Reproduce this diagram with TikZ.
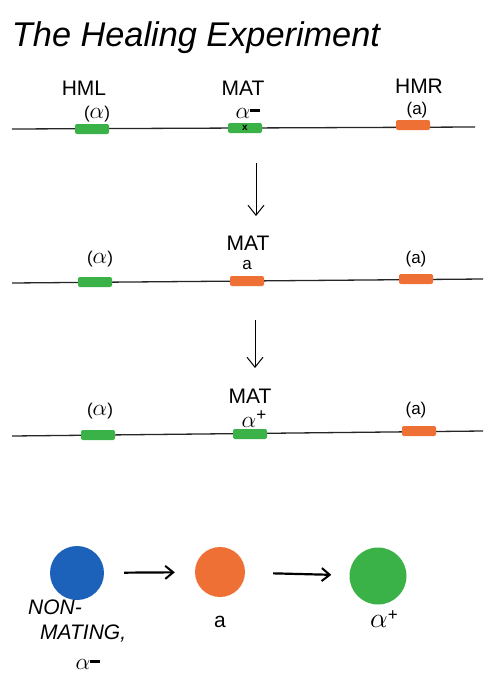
\documentclass[tikz,border=0pt]{standalone}
\usepackage{graphicx}
\usepackage{fontspec}
\setmainfont{Liberation Sans}
\usetikzlibrary{arrows.meta}
\definecolor{genegreen}{RGB}{58,178,72}
\definecolor{geneorange}{RGB}{238,112,52}
\definecolor{cellblue}{RGB}{28,98,186}
\newcommand{\alf}{\scalebox{1.35}{$\alpha$}}
\newcommand{\alfminus}{\alf\rule[6pt]{10pt}{3.5pt}}
\newcommand{\alfplus}{\alf\raisebox{7pt}{\fontsize{17}{17}\selectfont +}}
\tikzset{
  chrom/.style={line width=1.3pt, black!85},
  gene/.style={rectangle, rounded corners=2pt, minimum width=34pt, minimum height=10pt, inner sep=0pt},
  ggene/.style={gene, fill=genegreen},
  ogene/.style={gene, fill=geneorange},
  lbl/.style={inner sep=0pt, font=\fontsize{21}{23}\selectfont},
  sub/.style={inner sep=0pt, font=\fontsize{17}{19}\selectfont},
  downarrow/.style={line width=1pt, -{Straight Barb[length=10pt, width=16pt, line width=1pt]}},
  rightarrow/.style={line width=2.2pt, -{Straight Barb[length=8pt, width=13pt, line width=2pt]}},
  cell/.style={circle, minimum size=54pt, inner sep=0pt},
}
\begin{document}
\begin{tikzpicture}[x=1pt, y=-1pt]
  \useasboundingbox (0,0) rectangle (483,691);
  \fill[white] (0,0) rectangle (483,691);

  % title
  \node[inner sep=0pt, anchor=base] (title) at (196,46)
    {\resizebox{368pt}{!}{\itshape\fontsize{30}{32}\selectfont The Healing Experiment}};

  % first chromosome: HML(alpha), MAT alpha-, HMR(a)
  \coordinate (l1a) at (12,129);
  \coordinate (l1b) at (475,127);
  \draw[chrom] (l1a) -- (l1b);
  \node[ggene] (hml1) at (92,129) {};
  \node[ggene] (mat1) at (245,128) {\bfseries\fontsize{10}{10}\selectfont x};
  \node[ogene] (hmr1) at (413,125) {};
  \node[lbl] (hmlt) at (84,88) {HML};
  \node[sub] (hmla) at (97,114) {(\alf)};
  \node[lbl] (matt1) at (243,88) {MAT};
  \node[sub] (mata1) at (248,113) {\alfminus};
  \node[lbl] (hmrt) at (419,86) {HMR};
  \node[sub] (hmra) at (417,110) {(a)};

  % arrow down
  \coordinate (d1a) at (256,163);
  \coordinate (d1b) at (256,216);
  \draw[downarrow] (d1a) -- (d1b);

  % second chromosome: MAT a
  \coordinate (l2a) at (12,283);
  \coordinate (l2b) at (483,279);
  \draw[chrom] (l2a) -- (l2b);
  \node[ggene] (hml2) at (95,282) {};
  \node[ogene] (mat2) at (247,281) {};
  \node[ogene] (hmr2) at (416,279) {};
  \node[sub] (hmla2) at (100,259) {(\alf)};
  \node[lbl] (matt2) at (248,243) {MAT};
  \node[sub] (mata2) at (247,265) {a};
  \node[sub] (hmra2) at (416,259) {(a)};

  % arrow down
  \coordinate (d2a) at (255,320);
  \coordinate (d2b) at (255,368);
  \draw[downarrow] (d2a) -- (d2b);

  % third chromosome: MAT alpha+
  \coordinate (l3a) at (12,436);
  \coordinate (l3b) at (483,431);
  \draw[chrom] (l3a) -- (l3b);
  \node[ggene] (hml3) at (98,435) {};
  \node[ggene] (mat3) at (250,434) {};
  \node[ogene] (hmr3) at (419,431) {};
  \node[sub] (hmla3) at (100,411) {(\alf)};
  \node[lbl] (matt3) at (250,396) {MAT};
  \node[sub] (mata3) at (254,419) {\alfplus};
  \node[sub] (hmra3) at (416,410) {(a)};

  % cells
  \node[cell, fill=cellblue] (c1) at (77,573) {};
  \node[cell, fill=geneorange, minimum size=50pt] (c2) at (220,572) {};
  \node[cell, fill=genegreen, minimum size=57pt] (c3) at (378,576) {};
  \draw[rightarrow, shorten <=20pt, shorten >=20pt] (c1) -- (c2);
  \draw[rightarrow, shorten <=28pt, shorten >=18pt] (c2) -- (c3);

  \node[lbl, align=left, anchor=north west, font=\itshape\fontsize{21}{26}\selectfont] (nonmating) at (28,600) {NON-\\[-1pt]\hspace*{12pt}MATING,};
  \node[sub] (nma) at (88,664) {\alfminus};
  \node[lbl] (ca) at (220,622) {a};
  \node[lbl] (cal) at (384,619) {\alfplus};
\end{tikzpicture}
\end{document}
